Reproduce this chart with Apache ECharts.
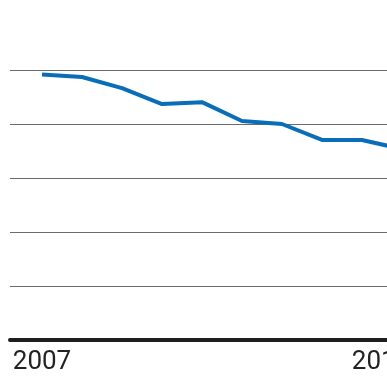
<!DOCTYPE html>
<html>
<head>
<meta charset="utf-8">
<script src="https://cdn.jsdelivr.net/npm/echarts@6/dist/echarts.min.js"></script>
<style>
  html, body { margin: 0; padding: 0; background: #fff; }
  #chart { width: 387px; height: 387px; }
</style>
</head>
<body>
<div id="chart"></div>
<script>
// years and values
const years = [2007, 2008, 2009, 2010, 2011, 2012, 2013, 2014, 2015, 2016]
const values = [98.3, 97.4, 93.3, 87.4, 88.1, 81.1, 80.0, 74.1, 74.1, 70.7]
const labelYears = [2007, 2016]

const myChart = echarts.init(document.getElementById('chart'))
myChart.setOption({
  animation: false,
  grid: {
    left: 10,
    right: -15,
    top: 70,
    bottom: 47,
    outerBoundsMode: 'none'
  },
  xAxis: {
    type: 'value',
    min: 2006.2,
    max: 2016,
    axisLine: { show: true, lineStyle: { color: '#1e1e1e', width: 4 } },
    axisTick: { show: false },
    splitLine: { show: false },
    axisLabel: {
      customValues: labelYears,
      showMinLabel: true,
      showMaxLabel: true,
      alignMinLabel: 'center',
      alignMaxLabel: 'center',
      // last label sits a bit left of its year, as in the source
      formatter: v => v === 2016 ? '{last|' + v + '}' : String(v),
      rich: {
        last: { padding: [0, 42, 0, 0], fontFamily: 'Roboto', fontSize: 26, color: '#222' }
      },
      fontFamily: 'Roboto',
      fontSize: 26,
      color: '#222',
      margin: 9
    }
  },
  yAxis: {
    type: 'value',
    min: 0,
    max: 100,
    interval: 20,
    axisLine: { show: false },
    axisTick: { show: false },
    axisLabel: { show: false },
    splitLine: { lineStyle: { color: '#6b6b6b', width: 1 } }
  },
  series: [{
    type: 'line',
    data: years.map((y, i) => [y, values[i]]),
    symbol: 'none',
    lineStyle: { color: '#0a6db8', width: 4 }
  }]
})
</script>
</body>
</html>
